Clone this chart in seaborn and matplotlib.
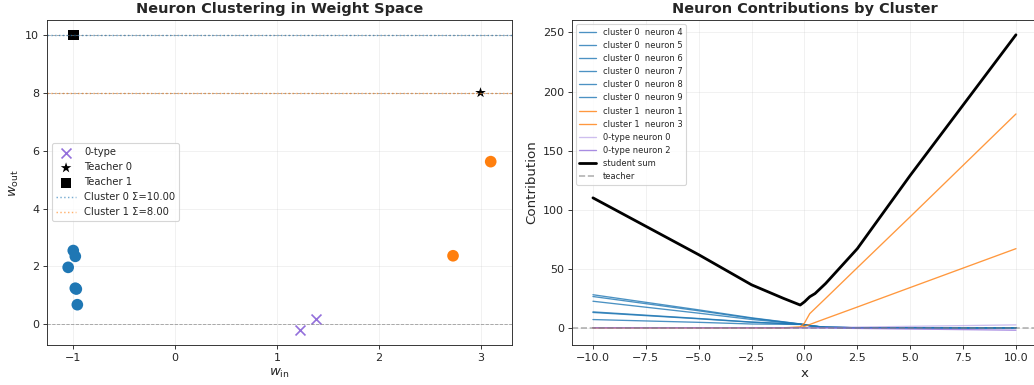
import numpy as np
import pandas as pd
import matplotlib
matplotlib.use("Agg")
import matplotlib.pyplot as plt
import seaborn as sns

# 权重空间中的神经元 (w_in, w_out)
c0_win = [-1.00, -0.98, -1.05, -0.98, -0.97, -0.96]
c0_wout = [2.55, 2.35, 1.97, 1.25, 1.22, 0.68]
c1_win = [3.10, 2.73]
c1_wout = [5.62, 2.37]
zero_win = [1.23, 1.38]
zero_wout = [-0.20, 0.17]
teacher_win = [3.0, -1.0]
teacher_wout = [8.0, 10.0]
cluster_sums = [10.00, 8.00]

# 各神经元的贡献曲线 (从图上读出的折点)
xs = [-10, -5, -2.5, -1, -0.2, 0, 0.25, 0.5, 1, 2.5, 5, 10]
c0_neurons = [4, 5, 6, 7, 8, 9]
c0_curves = [
    [28.0, 15.2, 8.5, 5.1, 3.3, 2.8, 2.0, 1.4, 0.55, 0.05, 0, 0],
    [26.5, 14.4, 8.1, 4.95, 3.2, 2.7, 1.95, 1.35, 0.5, 0.05, 0, 0],
    [22.5, 12.4, 7.1, 4.55, 3.1, 2.6, 1.9, 1.3, 0.5, 0.05, 0, 0],
    [13.5, 7.9, 4.9, 3.65, 2.95, 2.5, 1.8, 1.25, 0.45, 0.05, 0, 0],
    [13.0, 7.65, 4.75, 3.6, 2.95, 2.5, 1.8, 1.25, 0.45, 0.05, 0, 0],
    [7.0, 4.65, 3.25, 3.0, 2.85, 2.4, 1.7, 1.2, 0.4, 0.05, 0, 0],
]
c1_neurons = [1, 3]
c1_curves = [
    [0, 0, 0, 0, 0.8, 4.0, 12.0, 16.3, 24.9, 50.9, 94.0, 181.0],
    [0, 0, 0, 0, 0.3, 1.2, 2.8, 4.5, 7.8, 17.6, 34.1, 67.0],
]
zero_neurons = [0, 2]
zero_curves = [
    [0, 0, 0, 0, 0, 0, 0.06, 0.12, 0.25, 0.62, 1.25, 2.5],
    [0, 0, 0, 0, 0, 0, -0.05, -0.1, -0.2, -0.5, -1.0, -2.0],
]
student_sum = [110.0, 61.9, 36.4, 25.0, 19.3, 22.0, 26.3, 29.0, 37.5, 67.0, 129.0, 248.0]

blue = "#1f77b4"
orange = "#ff7f0e"
purple = "#9370db"

sns.set_style("ticks")
fig = plt.figure(figsize=(12.925, 4.8125), dpi=80)
ax1 = fig.add_axes([0.0455, 0.104, 0.4495, 0.844])
ax2 = fig.add_axes([0.553, 0.104, 0.45, 0.844])

# 左图：权重空间
ax1.axhline(0, color="gray", ls="--", lw=0.8, alpha=0.7)
for tw in teacher_wout:
    ax1.axhline(tw, color="gray", ls="--", lw=0.8, alpha=0.7)
ax1.axhline(cluster_sums[0], color=blue, ls=":", lw=1.3, alpha=0.6,
            label="Cluster 0 \u03a3=%.2f" % cluster_sums[0])
ax1.axhline(cluster_sums[1], color=orange, ls=":", lw=1.3, alpha=0.6,
            label="Cluster 1 \u03a3=%.2f" % cluster_sums[1])
sns.scatterplot(x=c0_win, y=c0_wout, color=blue, s=110, edgecolor="none", ax=ax1)
sns.scatterplot(x=c1_win, y=c1_wout, color=orange, s=110, edgecolor="none", ax=ax1)
sns.scatterplot(x=zero_win, y=zero_wout, color=purple, marker="x", s=80,
                linewidth=1.5, label="0-type", ax=ax1)
sns.scatterplot(x=[teacher_win[0]], y=[teacher_wout[0]], color="black", marker="*",
                s=100, edgecolor="none", label="Teacher 0", ax=ax1)
sns.scatterplot(x=[teacher_win[1]], y=[teacher_wout[1]], color="black", marker="s",
                s=90, edgecolor="none", label="Teacher 1", ax=ax1)
h, l = ax1.get_legend_handles_labels()
order = [l.index(k) for k in ["0-type", "Teacher 0", "Teacher 1"]] + [0, 1]
ax1.legend([h[i] for i in order], [l[i] for i in order], loc="center left",
           fontsize=9)
ax1.set_xlabel(r"$w_{\mathrm{in}}$", fontsize=12)
ax1.set_ylabel(r"$w_{\mathrm{out}}$", fontsize=12)
ax1.set_title("Neuron Clustering in Weight Space", fontsize=13, fontweight="bold")
ax1.set_yticks([0, 2, 4, 6, 8, 10])
ax1.grid(True, alpha=0.3)

# 右图：各簇贡献
for n, ys in zip(c0_neurons, c0_curves):
    sns.lineplot(x=xs, y=ys, color=blue, lw=1.2, alpha=0.8,
                 label="cluster 0  neuron %d" % n, ax=ax2)
for n, ys in zip(c1_neurons, c1_curves):
    sns.lineplot(x=xs, y=ys, color=orange, lw=1.2, alpha=0.8,
                 label="cluster 1  neuron %d" % n, ax=ax2)
for n, ys, a in zip(zero_neurons, zero_curves, [0.45, 0.8]):
    sns.lineplot(x=xs, y=ys, color=purple, lw=1.2, alpha=a,
                 label="0-type neuron %d" % n, ax=ax2)
sns.lineplot(x=xs, y=student_sum, color="black", lw=2.5, label="student sum", ax=ax2)
ax2.axhline(0, color="gray", ls="--", lw=1.5, alpha=0.6, label="teacher")
ax2.legend(loc="upper left", fontsize=7.5)
ax2.set_xlabel("x", fontsize=12)
ax2.set_ylabel("Contribution", fontsize=12)
ax2.set_title("Neuron Contributions by Cluster", fontsize=13, fontweight="bold")
ax2.set_xticks(np.arange(-10, 10.1, 2.5))
ax2.grid(True, alpha=0.3)

fig.savefig("out.png", dpi=80)
